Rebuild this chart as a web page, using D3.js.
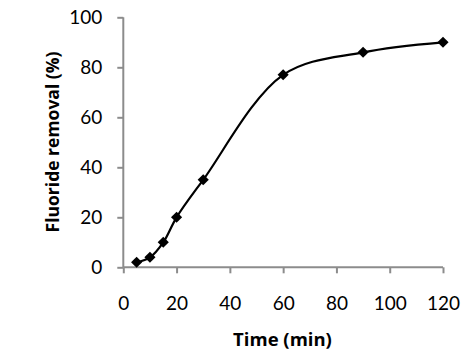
<!DOCTYPE html>
<html><head><meta charset="utf-8">
<script src="https://cdn.jsdelivr.net/npm/d3@7"></script>
<style>
html,body{margin:0;padding:0;background:#fff;}
svg{display:block;}
text{font-family:Lato,"Open Sans",sans-serif;}
</style></head>
<body>
<svg id="chart" width="474" height="355"></svg>
<script>
const times = [5, 10, 15, 20, 30, 60, 90, 120];
const removal = [2, 4, 10, 20, 35, 77, 86, 90];
const xTicks = [0, 20, 40, 60, 80, 100, 120];
const yTicks = [0, 20, 40, 60, 80, 100];
const xTitle = "Time (min)";
const yTitle = "Fluoride removal (%)";

const svg = d3.select("#chart");
const x = d3.scaleLinear().domain([0, 120]).range([123.3, 443]);
const y = d3.scaleLinear().domain([0, 100]).range([267.3, 17.3]);
const axisColor = "#8c8c8c";

const gx = svg.append("g").attr("transform", `translate(0,${y(0)})`)
  .call(d3.axisBottom(x).tickValues(xTicks).tickSize(6).tickPadding(23).tickFormat(d3.format("d")));
const gy = svg.append("g").attr("transform", `translate(${x(0)},0)`)
  .call(d3.axisLeft(y).tickValues(yTicks).tickSize(6).tickPadding(15).tickFormat(d3.format("d")));
[gx, gy].forEach(g => {
  g.select(".domain").attr("stroke", axisColor).attr("stroke-width", 2);
  g.selectAll(".tick line").attr("stroke", axisColor).attr("stroke-width", 2);
  g.selectAll(".tick text").attr("fill", "#000").style("font-size", "19px");
});
gy.select(".domain").attr("d", `M0,${y(100)}V${y(0)}`);
gx.select(".domain").attr("d", `M${x(0)},0H${x(120)}`);

const data = times.map((t, i) => ({t, v: removal[i]}));
const line = d3.line().x(d => x(d.t)).y(d => y(d.v)).curve(d3.curveCatmullRom.alpha(0.5));
svg.append("path").datum(data).attr("d", line)
  .attr("fill", "none").attr("stroke", "#000").attr("stroke-width", 2.2);

svg.selectAll(".pt").data(data).enter().append("path")
  .attr("class", "pt")
  .attr("d", d3.symbol().type(d3.symbolSquare).size(62))
  .attr("transform", d => `translate(${x(d.t)},${y(d.v)}) rotate(45)`)
  .attr("fill", "#000");

svg.append("text").attr("x", 282.5).attr("y", 346).attr("text-anchor", "middle")
  .style("font-family", "'Open Sans',sans-serif")
  .style("font-size", "18.5px").style("font-weight", "bold").text(xTitle);
svg.append("text").attr("transform", `translate(59,142) rotate(-90)`).attr("text-anchor", "middle")
  .style("font-family", "'Open Sans',sans-serif")
  .style("font-size", "17.5px").style("font-weight", "bold").text(yTitle);
</script>
</body></html>
